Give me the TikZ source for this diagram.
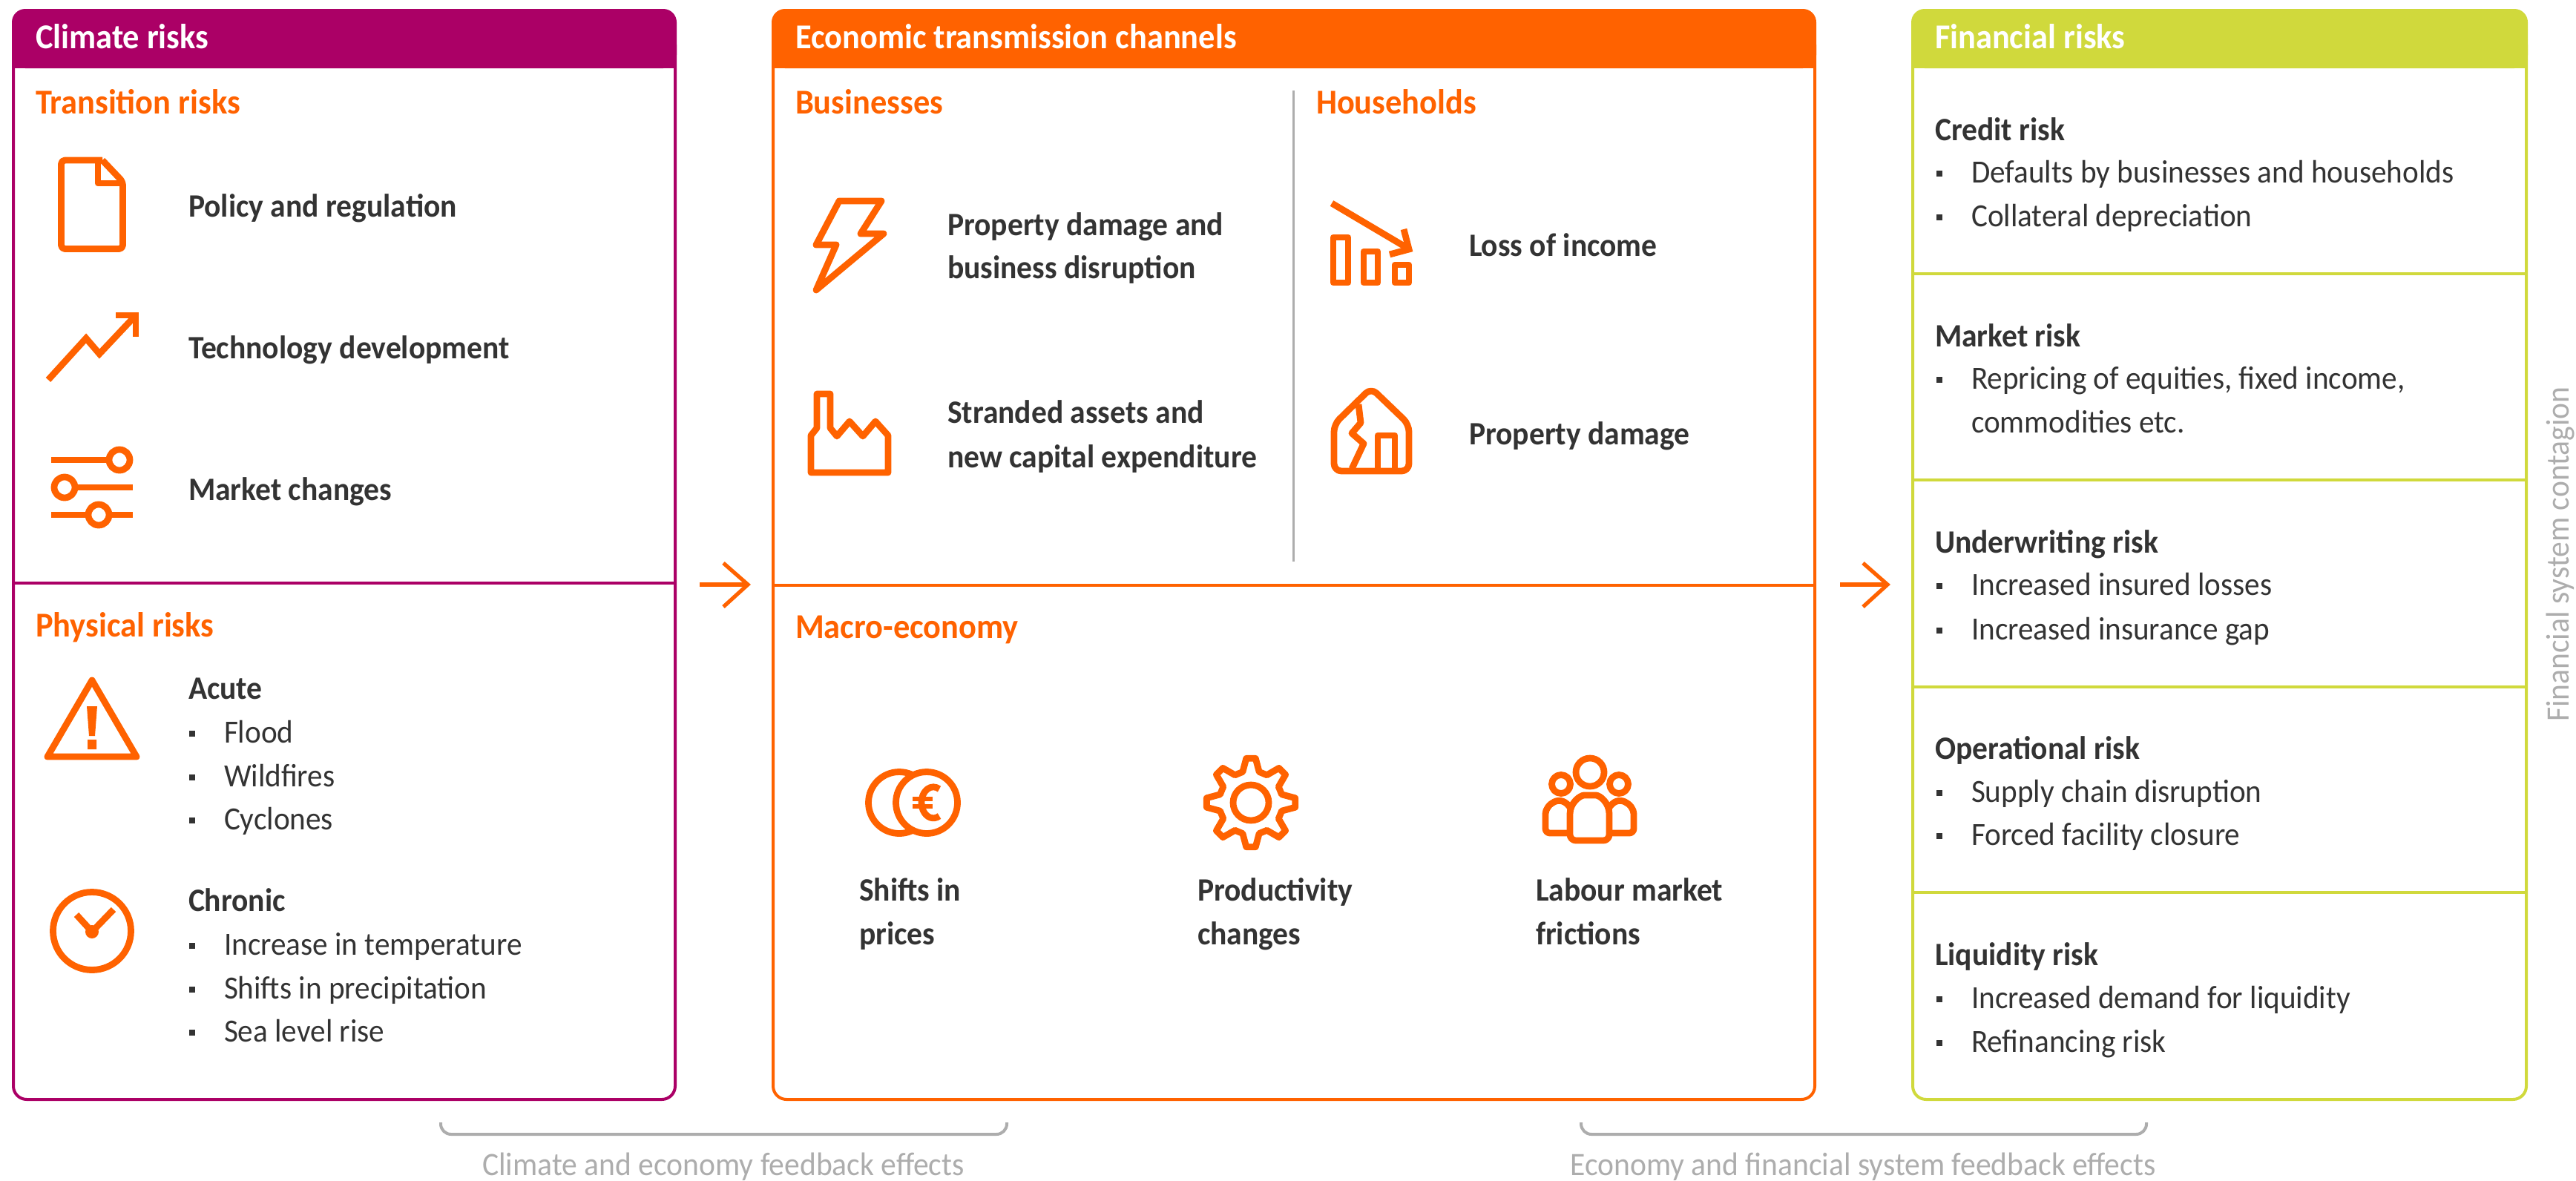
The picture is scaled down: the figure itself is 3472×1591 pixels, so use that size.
\documentclass[tikz,border=0pt]{standalone}
\usepackage{fontspec}
\setmainfont[FakeStretch=0.945]{Carlito}
\definecolor{mag}{HTML}{AB0066}
\definecolor{org}{HTML}{FF6200}
\definecolor{lim}{HTML}{D0D93C}
\definecolor{ink}{HTML}{333333}
\definecolor{gry}{HTML}{ADADAD}
\usetikzlibrary{calc}
\tikzset{
  x=0.5pt,y=-0.5pt,
  every node/.style={inner sep=0pt,outer sep=0pt,anchor=base west,yshift=-1pt},
  hdr/.style={font=\fontsize{23.5}{26}\selectfont\bfseries,text=white},
  sec/.style={font=\fontsize{23.5}{26}\selectfont\bfseries,text=org},
  lab/.style={font=\fontsize{22}{26}\selectfont\bfseries,text=ink},
  itm/.style={font=\fontsize{21.8}{26}\selectfont,text=ink},
  capt/.style={font=\fontsize{22}{26}\selectfont,text=gry},
  box/.style={line width=2pt,rounded corners=9pt},
  ico/.style={draw=org,line width=4.4pt,line join=round},
  icr/.style={ico,rounded corners=2.5pt},
  arw/.style={draw=org,line width=2.6pt,line join=miter},
  brk/.style={draw=gry,line width=2pt,rounded corners=7pt},
  bul/.style={fill=ink},
}
\newcommand{\bu}[4]{% x y name text
  \fill[bul] ({#1},{#2-14}) rectangle ++(8,8);
  \node[itm] (#3) at ({#1+47},#2) {#4};}
\begin{document}
\begin{tikzpicture}
\useasboundingbox (0,0) rectangle (3472,1591);
% --- Climate box
\fill[mag,rounded corners=9pt] (16,12) -- (912,12) -- (912,92) -- (16,92) -- cycle;
\fill[mag] (16,60) rectangle (912,92);
\draw[mag,box] (18,60) -- (18,1482) -- (910,1482) -- (910,60);
\draw[mag,line width=2pt] (18,786) -- (910,786);
\node[hdr] (t1) at (48,63) {Climate risks};
\node[sec] (t2) at (48,151) {Transition risks};
\node[lab] (p1) at (254,290) {Policy and regulation};
\node[lab] (p2) at (254,481) {Technology development};
\node[lab] (p3) at (254,672) {Market changes};
\node[sec] (t3) at (48,856) {Physical risks};
\node[lab] (p4) at (254,940) {Acute};
\bu{255}{999}{a1}{Flood}
\bu{255}{1058}{a2}{Wildfires}
\bu{255}{1116}{a3}{Cyclones}
\node[lab] (p5) at (254,1226) {Chronic};
\bu{255}{1285}{c1}{Increase in temperature}
\bu{255}{1344}{c2}{Shifts in precipitation}
\bu{255}{1402}{c3}{Sea level rise}
% document
\draw[icr] (138,216) -- (82.5,216) -- (82.5,335.5) -- (165.5,335.5) -- (165.5,245) [sharp corners] -- (138,216);
\draw[ico] (132,216) -- (132,247) -- (165.5,247);
% trend
\draw[ico,line join=miter] (65,512) -- (116,456) -- (134,477) -- (183,425);
\draw[ico,line join=miter] (156,425) -- (183,425) -- (183,454);
% sliders
\draw[ico] (69,620) -- (150,620) (100,657) -- (179,657) (69,694) -- (179,694);
\draw[ico,fill=white] (161,620) circle (14);
\draw[ico,fill=white] (87,657) circle (14);
\draw[ico,fill=white] (133,694) circle (14);
% warning
\draw[ico] (124,917) -- (184,1020) -- (64,1020) -- cycle;
\fill[org] (117,952) -- (131,952) -- (128,992) -- (120,992) -- cycle (118,997) rectangle (130,1010);
% clock
\draw[ico] (124,1255) circle (52.5);
\draw[ico] (103,1233) -- (124,1256) -- (153,1226);
\fill[org] (124,1256) circle (9);
% --- Middle box
\fill[org,rounded corners=9pt] (1040,12) -- (2448,12) -- (2448,92) -- (1040,92) -- cycle;
\fill[org] (1040,60) rectangle (2448,92);
\draw[org,box] (1042,60) -- (1042,1482) -- (2446,1482) -- (2446,60);
\draw[org,line width=2pt] (1042,789) -- (2446,789);
\draw[gry,line width=1.5pt] (1743,122) -- (1743,757);
\node[hdr] (t4) at (1072,63) {Economic transmission channels};
\node[sec] (t5) at (1072,151) {Businesses};
\node[sec] (t6) at (1774,151) {Households};
\node[lab] (m1) at (1277,315) {Property damage and};
\node[lab] (m2) at (1277,373) {business disruption};
\node[lab] (m3) at (1277,568) {Stranded assets and};
\node[lab] (m4) at (1277,628) {new capital expenditure};
\node[lab] (m5) at (1980,343) {Loss of income};
\node[lab] (m6) at (1980,597) {Property damage};
\node[sec] (t7) at (1072,858) {Macro-economy};
\node[lab] (n1) at (1158,1212) {Shifts in};
\node[lab] (n2) at (1158,1271) {prices};
\node[lab] (n3) at (1614,1212) {Productivity};
\node[lab] (n4) at (1614,1271) {changes};
\node[lab] (n5) at (2070,1212) {Labour market};
\node[lab] (n6) at (2070,1271) {frictions};
% lightning
\draw[ico] (1131,271) -- (1188,271) -- (1160,315) -- (1191,315) -- (1100,391) -- (1127,330) -- (1100,330) -- cycle;
% factory
\draw[ico] (1093,637) -- (1093,587) -- (1101,577) -- (1101,531) -- (1119,531) -- (1119,577) -- (1128,588) -- (1145,568) -- (1163,588) -- (1180,568) -- (1197,587) -- (1197,637) -- cycle;
% loss of income
\draw[ico] (1797,320) rectangle (1817,381);
\draw[ico] (1838,339) rectangle (1857,381);
\draw[ico] (1880,357) rectangle (1899,381);
\draw[ico,line join=miter] (1795,274) -- (1898,335);
\draw[ico,line join=miter] (1892,309) -- (1899,336) -- (1873,343);
% house
\draw[ico,rounded corners=5pt] (1848,523) -- (1899,572) -- (1899,635) -- (1798,635) -- (1798,572) -- cycle;
\draw[ico] (1831,545) -- (1834,570) -- (1822,584) -- (1838,598) -- (1822,632);
\draw[ico] (1857,635) -- (1857,587) -- (1880,587) -- (1880,635);
% coins
\draw[ico] (1212,1082) circle (41.5);
\draw[ico,fill=white] (1249,1082) circle (41.5);
\draw[ico] (1266,1100) arc (60:300:16 and 21);
\draw[org,line width=3pt] (1230,1077) -- (1257,1077) (1230,1087) -- (1257,1087);
% gear
\draw[ico] \foreach \a [count=\i] in {0,45,...,315} {
  \ifnum\i=1 ([shift={(1686,1082)}]\a-15:43) \else -- ([shift={(1686,1082)}]\a-15:43) \fi
  -- ([shift={(1686,1082)}]\a-6:60) -- ([shift={(1686,1082)}]\a+6:60) -- ([shift={(1686,1082)}]\a+15:43)
} -- cycle;
\draw[ico] (1686,1082) circle (24);
% people
\draw[ico] (2143,1041) circle (19);
\draw[ico] (2104,1057) circle (12.5);
\draw[ico] (2182,1057) circle (12.5);
\draw[ico,rounded corners=3pt] (2116,1123) -- (2083,1123) -- (2083,1103) [sharp corners] .. controls (2083,1085) and (2104,1068) .. (2117,1090);
\draw[ico,rounded corners=3pt] (2169,1123) -- (2202,1123) -- (2202,1103) [sharp corners] .. controls (2202,1085) and (2181,1068) .. (2168,1090);
\draw[ico,fill=white,rounded corners=4pt] (2116,1105) .. controls (2116,1082) and (2130,1072) .. (2143,1072) .. controls (2156,1072) and (2169,1082) .. (2169,1105) -- (2169,1133) -- (2116,1133) -- cycle;
% --- Right box
\fill[lim,rounded corners=9pt] (2576,12) -- (3407,12) -- (3407,92) -- (2576,92) -- cycle;
\fill[lim] (2576,60) rectangle (3407,92);
\draw[lim,box] (2578,60) -- (2578,1482) -- (3405,1482) -- (3405,60);
\foreach \yy in {369,647,926,1203} \draw[lim,line width=2pt] (2578,\yy) -- (3405,\yy);
\node[hdr] (t8) at (2608,63) {Financial risks};
\node[lab] (r1) at (2608,187) {Credit risk};
\bu{2610}{244}{r1a}{Defaults by businesses and households}
\bu{2610}{303}{r1b}{Collateral depreciation}
\node[lab] (r2) at (2608,465) {Market risk};
\bu{2610}{522}{r2a}{Repricing of equities, fixed income,}
\node[itm] (r2b) at (2657,581) {commodities etc.};
\node[lab] (r3) at (2608,743) {Underwriting risk};
\bu{2610}{800}{r3a}{Increased insured losses}
\bu{2610}{860}{r3b}{Increased insurance gap}
\node[lab] (r4) at (2608,1021) {Operational risk};
\bu{2610}{1079}{r4a}{Supply chain disruption}
\bu{2610}{1137}{r4b}{Forced facility closure}
\node[lab] (r5) at (2608,1299) {Liquidity risk};
\bu{2610}{1357}{r5a}{Increased demand for liquidity}
\bu{2610}{1416}{r5b}{Refinancing risk}
% --- arrows
\coordinate (a1s) at (943,786); \coordinate (a1e) at (1008,786);
\coordinate (a1u) at (975,757); \coordinate (a1d) at (975,816);
\coordinate (a2s) at (2480,786); \coordinate (a2e) at (2544,786);
\coordinate (a2u) at (2511,757); \coordinate (a2d) at (2511,816);
\draw[arw] (a1s) -- (a1e);
\draw[arw] (a1u) -- (a1e) -- (a1d);
\draw[arw] (a2s) -- (a2e);
\draw[arw] (a2u) -- (a2e) -- (a2d);
% --- brackets and captions
\draw[brk] (594,1513) -- (594,1529) -- (1357,1529) -- (1357,1513);
\draw[brk] (2131,1513) -- (2131,1529) -- (2893,1529) -- (2893,1513);
\node[capt,anchor=base] (f1) at (975,1582) {Climate and economy feedback effects};
\node[capt,anchor=base] (f2) at (2511,1582) {Economy and financial system feedback effects};
\node[capt,anchor=base,rotate=90] (f3) at (3462,745) {Financial system contagion};
\end{tikzpicture}
\end{document}
